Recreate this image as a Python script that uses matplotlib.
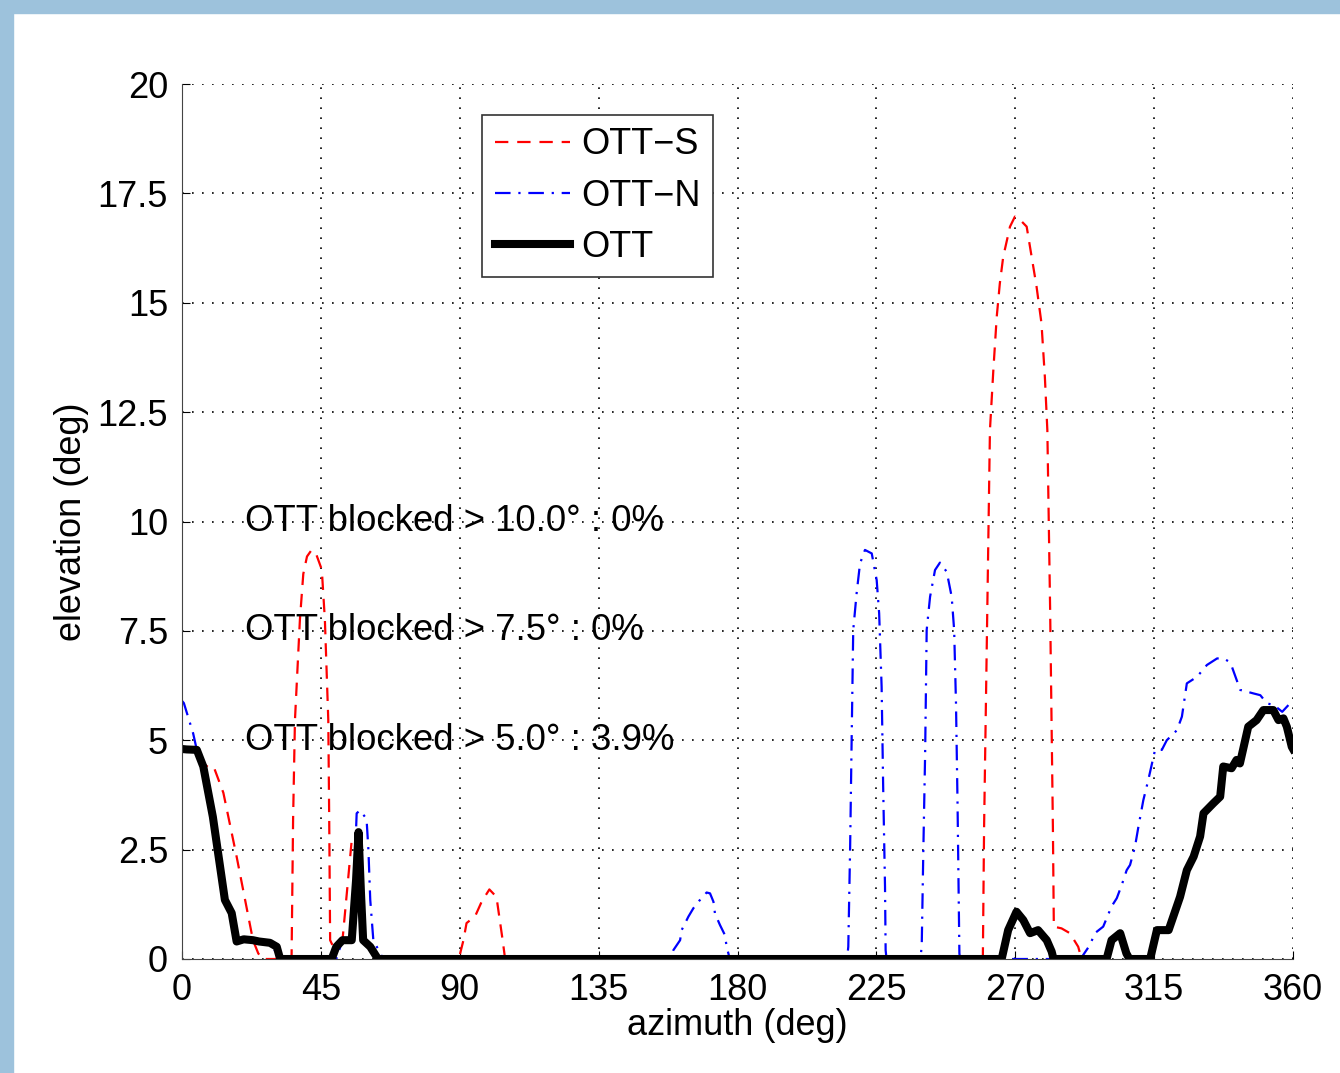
import matplotlib.pyplot as plt
from matplotlib.patches import Rectangle

plt.rcParams['font.family'] = ['Liberation Sans', 'DejaVu Sans']

# OTT-S (red dashed)
az_s = [0, 1.5, 4.8, 6.4, 9.6, 10.5, 13.4, 17.7, 23, 24.7, 26, 35.5, 36, 36.6, 38.2, 39.3, 40.5, 42,
        43.5, 45.3, 46.3, 47.4, 47.7, 48, 49, 52, 55, 57.2, 58.7, 61, 63.5, 89.5, 90, 91.2, 92.2, 95,
        97.1, 99.6, 101.9, 102.5, 103.9, 104.7, 259.5, 259.9, 261.8, 262.9, 264, 265, 266.1, 268.3,
        269.9, 271.5, 273.7, 276.9, 278.5, 279.6, 280.4, 281.3, 282.2, 282.5, 285, 287.7, 290.4,
        291.5]
el_s = [4.8, 4.79, 4.78, 4.5, 4.32, 4.35, 3.8, 2.34, 0.43, 0.13, 0, 0, 3.2, 5.46, 7.75, 8.8, 9.2, 9.35,
        9.25, 8.9, 7.75, 5.46, 3.2, 0.43, 0.28, 0.43, 2.72, 2.9, 0.43, 0.28, 0, 0, 0.09, 0.43, 0.82, 0.98,
        1.31, 1.59, 1.42, 1.12, 0.43, 0, 0, 3.0, 12.09, 13.46, 14.68, 15.44, 16.05, 16.74,
        16.97, 16.9, 16.74, 15.37, 14.53, 13.3, 12.09, 8.0, 3.0, 0.74, 0.7, 0.59, 0.28,
        0]

# OTT-N (blue dash-dot)
az_n = [0, 0.6, 3.6, 4.8, 6.9, 10, 13.9, 16.1, 17.7, 23, 28.5, 31.8, 50, 52, 55, 56.6, 57.7, 59.8,
        60.4, 61, 62, 65.2, 158.1, 159.2, 161.4, 161.9, 164.1, 165.7, 167.6, 170, 171.1, 172.2, 172.7,
        174.3, 175.9, 176.5, 177.5, 215.5, 215.9, 216.5, 217, 217.5, 218.6, 219.7, 221.3, 223.5,
        225.1, 225.9, 226.7, 227.2, 227.8, 228, 228.3, 239.3, 239.7, 240.2, 240.8, 241.3, 242.4, 244,
        245.6, 247.8, 249.4, 250.2, 250.8, 251.3, 251.7, 251.9, 252.1, 291.5, 292, 294.2, 295.8, 298.5,
        301.2, 302.9, 304.5, 306.1, 307.2, 308.8, 309.9, 311.5, 313.1, 315.3, 317.5, 319.1, 322.4, 324,
        325.6, 328.9, 332.1, 335.4, 337.5, 339.2, 340.2, 342.9, 345.1, 347.2, 349.4, 351.6, 353.7,
        356.5, 358.6, 360]
el_n = [5.9, 5.85, 5.16, 4.78, 4.4, 3.25, 1.35, 1.05, 0.4, 0.43, 0.37, 0, 0, 0.43, 0.43, 3.33, 3.4,
        3.2, 2.5, 1.35, 0.43, 0, 0, 0.2, 0.43, 0.66, 0.97, 1.16, 1.33, 1.52, 1.5, 1.31, 1.04,
        0.78, 0.55, 0.28, 0, 0, 0.28, 2.57, 5.08, 7.52, 8.36, 9.04, 9.35, 9.27,
        8.66, 7.9, 6.22, 3.94, 1.65, 0.2, 0, 0, 0.32, 2.42, 4.7, 7.52, 8.28, 8.89,
        9.06, 8.85, 8.28, 7.52, 5.84, 3.56, 1.27, 0.13, 0, 0, 0.09, 0.32, 0.59, 0.74,
        1.2, 1.39, 1.69, 2.03, 2.15, 2.57, 3.02, 3.63, 4.09, 4.78, 4.78, 5.0, 5.23, 5.54,
        6.3, 6.45, 6.72, 6.87, 6.87, 6.8, 6.68, 6.15, 6.11, 6.07, 6.03, 5.84, 5.81,
        5.65, 5.81, 5.9]

# OTT (black)
az_o = [0, 1.5, 4.8, 6.9, 10, 13.9, 16.1, 17.7, 20, 23, 25, 28.5, 30.7, 31.8, 48.5, 50, 52, 55, 56.4,
        57.2, 58, 58.7, 61, 63.5, 265.6, 267.7, 270.4, 272.6, 274.8, 277.4, 280.2, 281.8, 282.4,
        299.6, 301.2, 304, 306, 307, 313.7, 315.9, 319.7, 323.4, 325.6, 327.8, 329.9, 331, 334.2,
        336.4, 337.4, 340.1, 341.7, 342.8, 345.5, 348.2, 350.4, 353.6, 355.3, 356.9, 358, 359.6, 360]
el_o = [4.8, 4.79, 4.78, 4.4, 3.25, 1.35, 1.05, 0.4, 0.45, 0.43, 0.4, 0.37, 0.28, 0, 0, 0.28, 0.43,
        0.43, 1.8, 2.9, 1.5, 0.43, 0.28, 0, 0, 0.66, 1.08, 0.89, 0.59, 0.66, 0.43, 0.17, 0,
        0, 0.43, 0.59, 0.13, 0, 0, 0.66, 0.66, 1.42, 2.03, 2.34, 2.8, 3.33, 3.56,
        3.71, 4.4, 4.36, 4.55, 4.47, 5.31, 5.46, 5.69, 5.69, 5.46, 5.5, 5.31, 4.85, 4.8]

x_ticks = [0, 45, 90, 135, 180, 225, 270, 315, 360]
y_ticks = [0, 2.5, 5, 7.5, 10, 12.5, 15, 17.5, 20]
y_labels = ['0', '2.5', '5', '7.5', '10', '12.5', '15', '17.5', '20']
blocked_thr = ['10.0', '7.5', '5.0']
blocked_pct = ['0%', '0%', '3.9%']
blocked_y = [10, 7.5, 5]

fig = plt.figure(figsize=(13.4, 10.73), dpi=100)
ax = fig.add_axes([182 / 1340, 1 - 959 / 1073, 1111 / 1340, 875 / 1073])

ax.plot(az_s, el_s, color='red', lw=1.6, dashes=(6, 4), label='OTT\u2212S')
ax.plot(az_n, el_n, color='blue', lw=1.6, dashes=(7, 3.5, 1, 3.5), label='OTT\u2212N')
ax.plot(az_o, el_o, color='black', lw=5.8, solid_joinstyle='round', label='OTT')

for yv, thr, pct in zip(blocked_y, blocked_thr, blocked_pct):
    ax.text(20.5, yv, 'OTT blocked > ' + thr + '\u00b0 : ' + pct,
            fontsize=26.3, va='center', ha='left')

ax.set_xlim(0, 360)
ax.set_ylim(0, 20)
ax.set_xticks(x_ticks)
ax.set_yticks(y_ticks)
ax.set_yticklabels(y_labels)
ax.tick_params(direction='in', length=6, labelsize=26, pad=10)
ax.grid(True, color='black', linestyle=(0, (1, 5)), lw=1.2)
ax.spines['top'].set_visible(False)
ax.spines['right'].set_visible(False)
ax.spines['left'].set_color('#444444')
ax.spines['bottom'].set_color('#444444')
ax.set_xlabel('azimuth (deg)', fontsize=26, labelpad=0)
ax.set_ylabel('elevation (deg)', fontsize=26, labelpad=6)

leg = ax.legend(loc='upper left', bbox_to_anchor=(0.27, 0.965), fontsize=26, fancybox=False,
                framealpha=1, edgecolor='#333333', handlelength=2.1, handletextpad=0.3,
                borderpad=0.35, labelspacing=0.45, borderaxespad=0)
leg.get_frame().set_linewidth(1.2)

# light blue frame on top and left edge
fig.patches.append(Rectangle((0, 0), 13 / 1340, 1, transform=fig.transFigure,
                             color='#9dc2dc', zorder=0))
fig.patches.append(Rectangle((0, 1 - 13 / 1073), 1, 13 / 1073, transform=fig.transFigure,
                             color='#9dc2dc', zorder=0))

fig.savefig('out.png', dpi=100)
